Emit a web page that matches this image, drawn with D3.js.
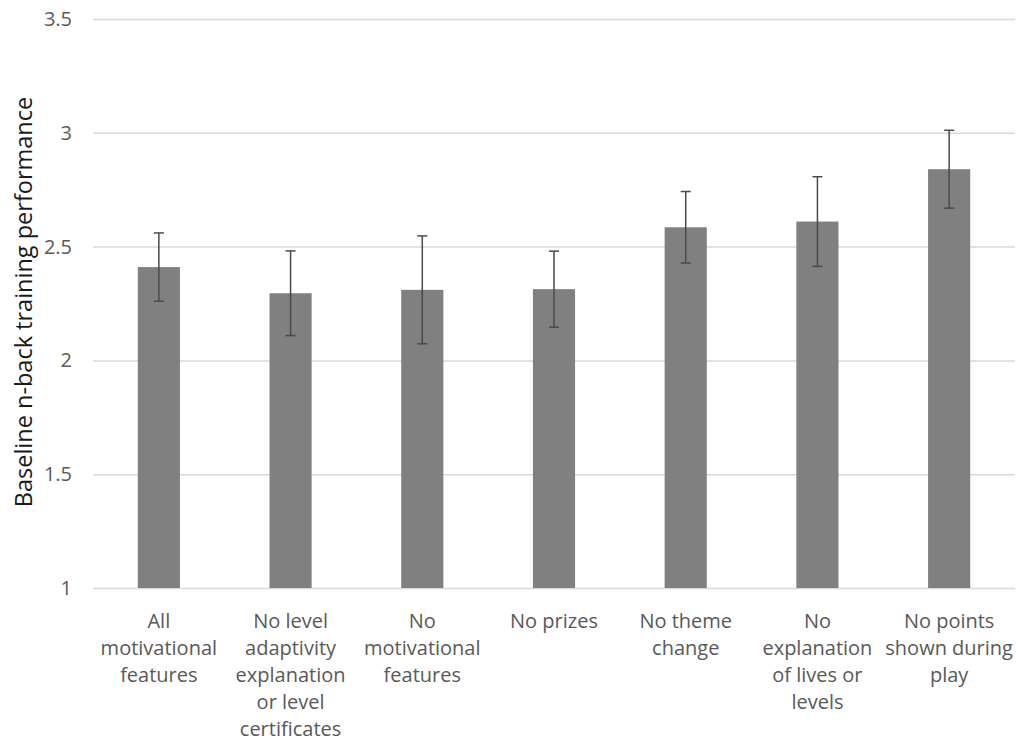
<!DOCTYPE html>
<html>
<head>
<meta charset="utf-8">
<script src="https://cdn.jsdelivr.net/npm/d3@7"></script>
<style>
  html, body { margin: 0; padding: 0; background: #fff; }
  svg { display: block; }
  text { font-family: "Open Sans", "Noto Sans", sans-serif; }
</style>
</head>
<body>
<svg id="chart" width="1016" height="744"></svg>
<script>
// Condition labels (each entry is the wrapped lines of one category)
const categories = [
  ["All", "motivational", "features"],
  ["No level", "adaptivity", "explanation", "or level", "certificates"],
  ["No", "motivational", "features"],
  ["No prizes"],
  ["No theme", "change"],
  ["No", "explanation", "of lives or", "levels"],
  ["No points", "shown during", "play"]
];
// Mean baseline n-back performance per condition
const means = [2.41, 2.295, 2.31, 2.313, 2.585, 2.61, 2.84];
// Error bar half-widths
const errors = [0.15, 0.186, 0.237, 0.167, 0.157, 0.197, 0.171];
// Y axis ticks
const yTicks = [1, 1.5, 2, 2.5, 3, 3.5];

const svg = d3.select("#chart");
const plot = { left: 93, right: 1015, top: 19, bottom: 588 };

const ids = categories.map((d, i) => i);
const x = d3.scaleBand()
  .domain(ids)
  .range([plot.left, plot.right])
  .paddingInner(0.68)
  .paddingOuter(0.34);

const y = d3.scaleLinear()
  .domain([1, 3.5])
  .range([plot.bottom, plot.top]);

// Gridlines and tick labels
const yAxis = d3.axisLeft(y)
  .tickValues(yTicks)
  .tickSize(-(plot.right - plot.left))
  .tickPadding(21)
  .tickFormat(d => String(d));

const gy = svg.append("g")
  .attr("transform", `translate(${plot.left},0)`)
  .call(yAxis);
gy.select(".domain").remove();
gy.selectAll(".tick line").attr("stroke", "#d9d9d9").attr("stroke-width", 1.5);
gy.selectAll(".tick text")
  .attr("fill", "#595959")
  .style("font-size", "20px");

// Bars
svg.append("g").selectAll("rect")
  .data(means)
  .join("rect")
  .attr("x", (d, i) => x(i))
  .attr("width", x.bandwidth())
  .attr("y", d => y(d))
  .attr("height", d => y(1) - y(d))
  .attr("fill", "#808080");

// Error bars
const capW = 10;
const eb = svg.append("g").attr("stroke", "#4a4a4a").attr("stroke-width", 1.5);
means.forEach((m, i) => {
  const cx = x(i) + x.bandwidth() / 2;
  const hi = y(m + errors[i]);
  const lo = y(m - errors[i]);
  eb.append("line").attr("x1", cx).attr("x2", cx).attr("y1", hi).attr("y2", lo);
  eb.append("line").attr("x1", cx - capW / 2).attr("x2", cx + capW / 2).attr("y1", hi).attr("y2", hi);
  eb.append("line").attr("x1", cx - capW / 2).attr("x2", cx + capW / 2).attr("y1", lo).attr("y2", lo);
});

// Category labels
const lineH = 27;
const gx = svg.append("g");
categories.forEach((lines, i) => {
  const cx = x(i) + x.bandwidth() / 2;
  const t = gx.append("text")
    .attr("text-anchor", "middle")
    .attr("fill", "#595959")
    .style("font-size", "20px");
  lines.forEach((ln, j) => {
    t.append("tspan")
      .attr("x", cx)
      .attr("y", 628 + j * lineH)
      .text(ln);
  });
});

// Y axis title
svg.append("text")
  .attr("transform", `translate(32, ${(97 + 507) / 2}) rotate(-90)`)
  .attr("text-anchor", "middle")
  .attr("fill", "#1a1a1a")
  .style("font-size", "23.5px")
  .text("Baseline n-back training performance");
</script>
</body>
</html>
